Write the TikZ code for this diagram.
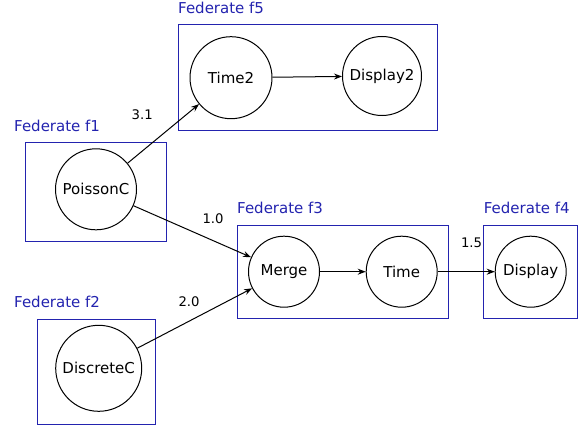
\documentclass[tikz,border=0pt]{standalone}
\usepackage{fontspec}
\setmainfont{DejaVu Sans}
\usetikzlibrary{arrows.meta}
\definecolor{fedblue}{RGB}{35,35,175}
\begin{document}
\begin{tikzpicture}[x=1pt,y=1pt,
  fedbox/.style={draw=fedblue, line width=1pt},
  fedlabel/.style={text=fedblue, anchor=west, inner sep=0pt, font=\fontsize{15}{17}\selectfont},
  actor/.style={draw, circle, line width=1pt, inner sep=0pt, font=\fontsize{15}{17}\selectfont},
  conn/.style={-{Stealth[length=8pt,width=6pt]}, line width=1pt},
  elabel/.style={font=\fontsize{13.2}{15}\selectfont, inner sep=0pt}]
\useasboundingbox (0,0) rectangle (585,429);
% boxes
\draw[fedbox] (178,298) rectangle (437,404);
\draw[fedbox] (25,187.3) rectangle (166.7,286.7);
\draw[fedbox] (37.3,5) rectangle (155,110);
\draw[fedbox] (237,110.3) rectangle (448.7,204);
\draw[fedbox] (483.7,110.3) rectangle (577.7,204);
% labels
\node[fedlabel] (lf5) at (178,421) {Federate f5};
\node[fedlabel] (lf1) at (14,303) {Federate f1};
\node[fedlabel] (lf2) at (14,127.3) {Federate f2};
\node[fedlabel] (lf3) at (237,221) {Federate f3};
\node[fedlabel] (lf4) at (483.7,221) {Federate f4};
% actors
\node[actor, minimum size=82pt] (time2) at (231,351.3) {Time2};
\node[actor, minimum size=79pt] (display2) at (382,353) {Display2};
\node[actor, minimum size=81pt] (poisson) at (96,239.7) {PoissonC};
\node[actor, minimum size=86pt] (discrete) at (98.7,60.7) {DiscreteC};
\node[actor, minimum size=71pt] (merge) at (284,157.3) {Merge};
\node[actor, minimum size=71pt] (time) at (401.7,157.3) {Time};
\node[actor, minimum size=71pt] (display) at (530.7,157.3) {Display};
% connectors
\draw[conn] (poisson) -- (time2);
\draw[conn] (time2) -- (display2);
\draw[conn] (poisson) -- (merge);
\draw[conn] (discrete) -- (merge);
\draw[conn] (merge) -- (time);
\draw[conn] (time) -- (display);
% edge labels
\node[elabel] (l31) at (142.2,314.5) {3.1};
\node[elabel] (l10) at (213,210) {1.0};
\node[elabel] (l20) at (189,127.3) {2.0};
\node[elabel] (l15) at (471.5,186) {1.5};
\end{tikzpicture}
\end{document}
